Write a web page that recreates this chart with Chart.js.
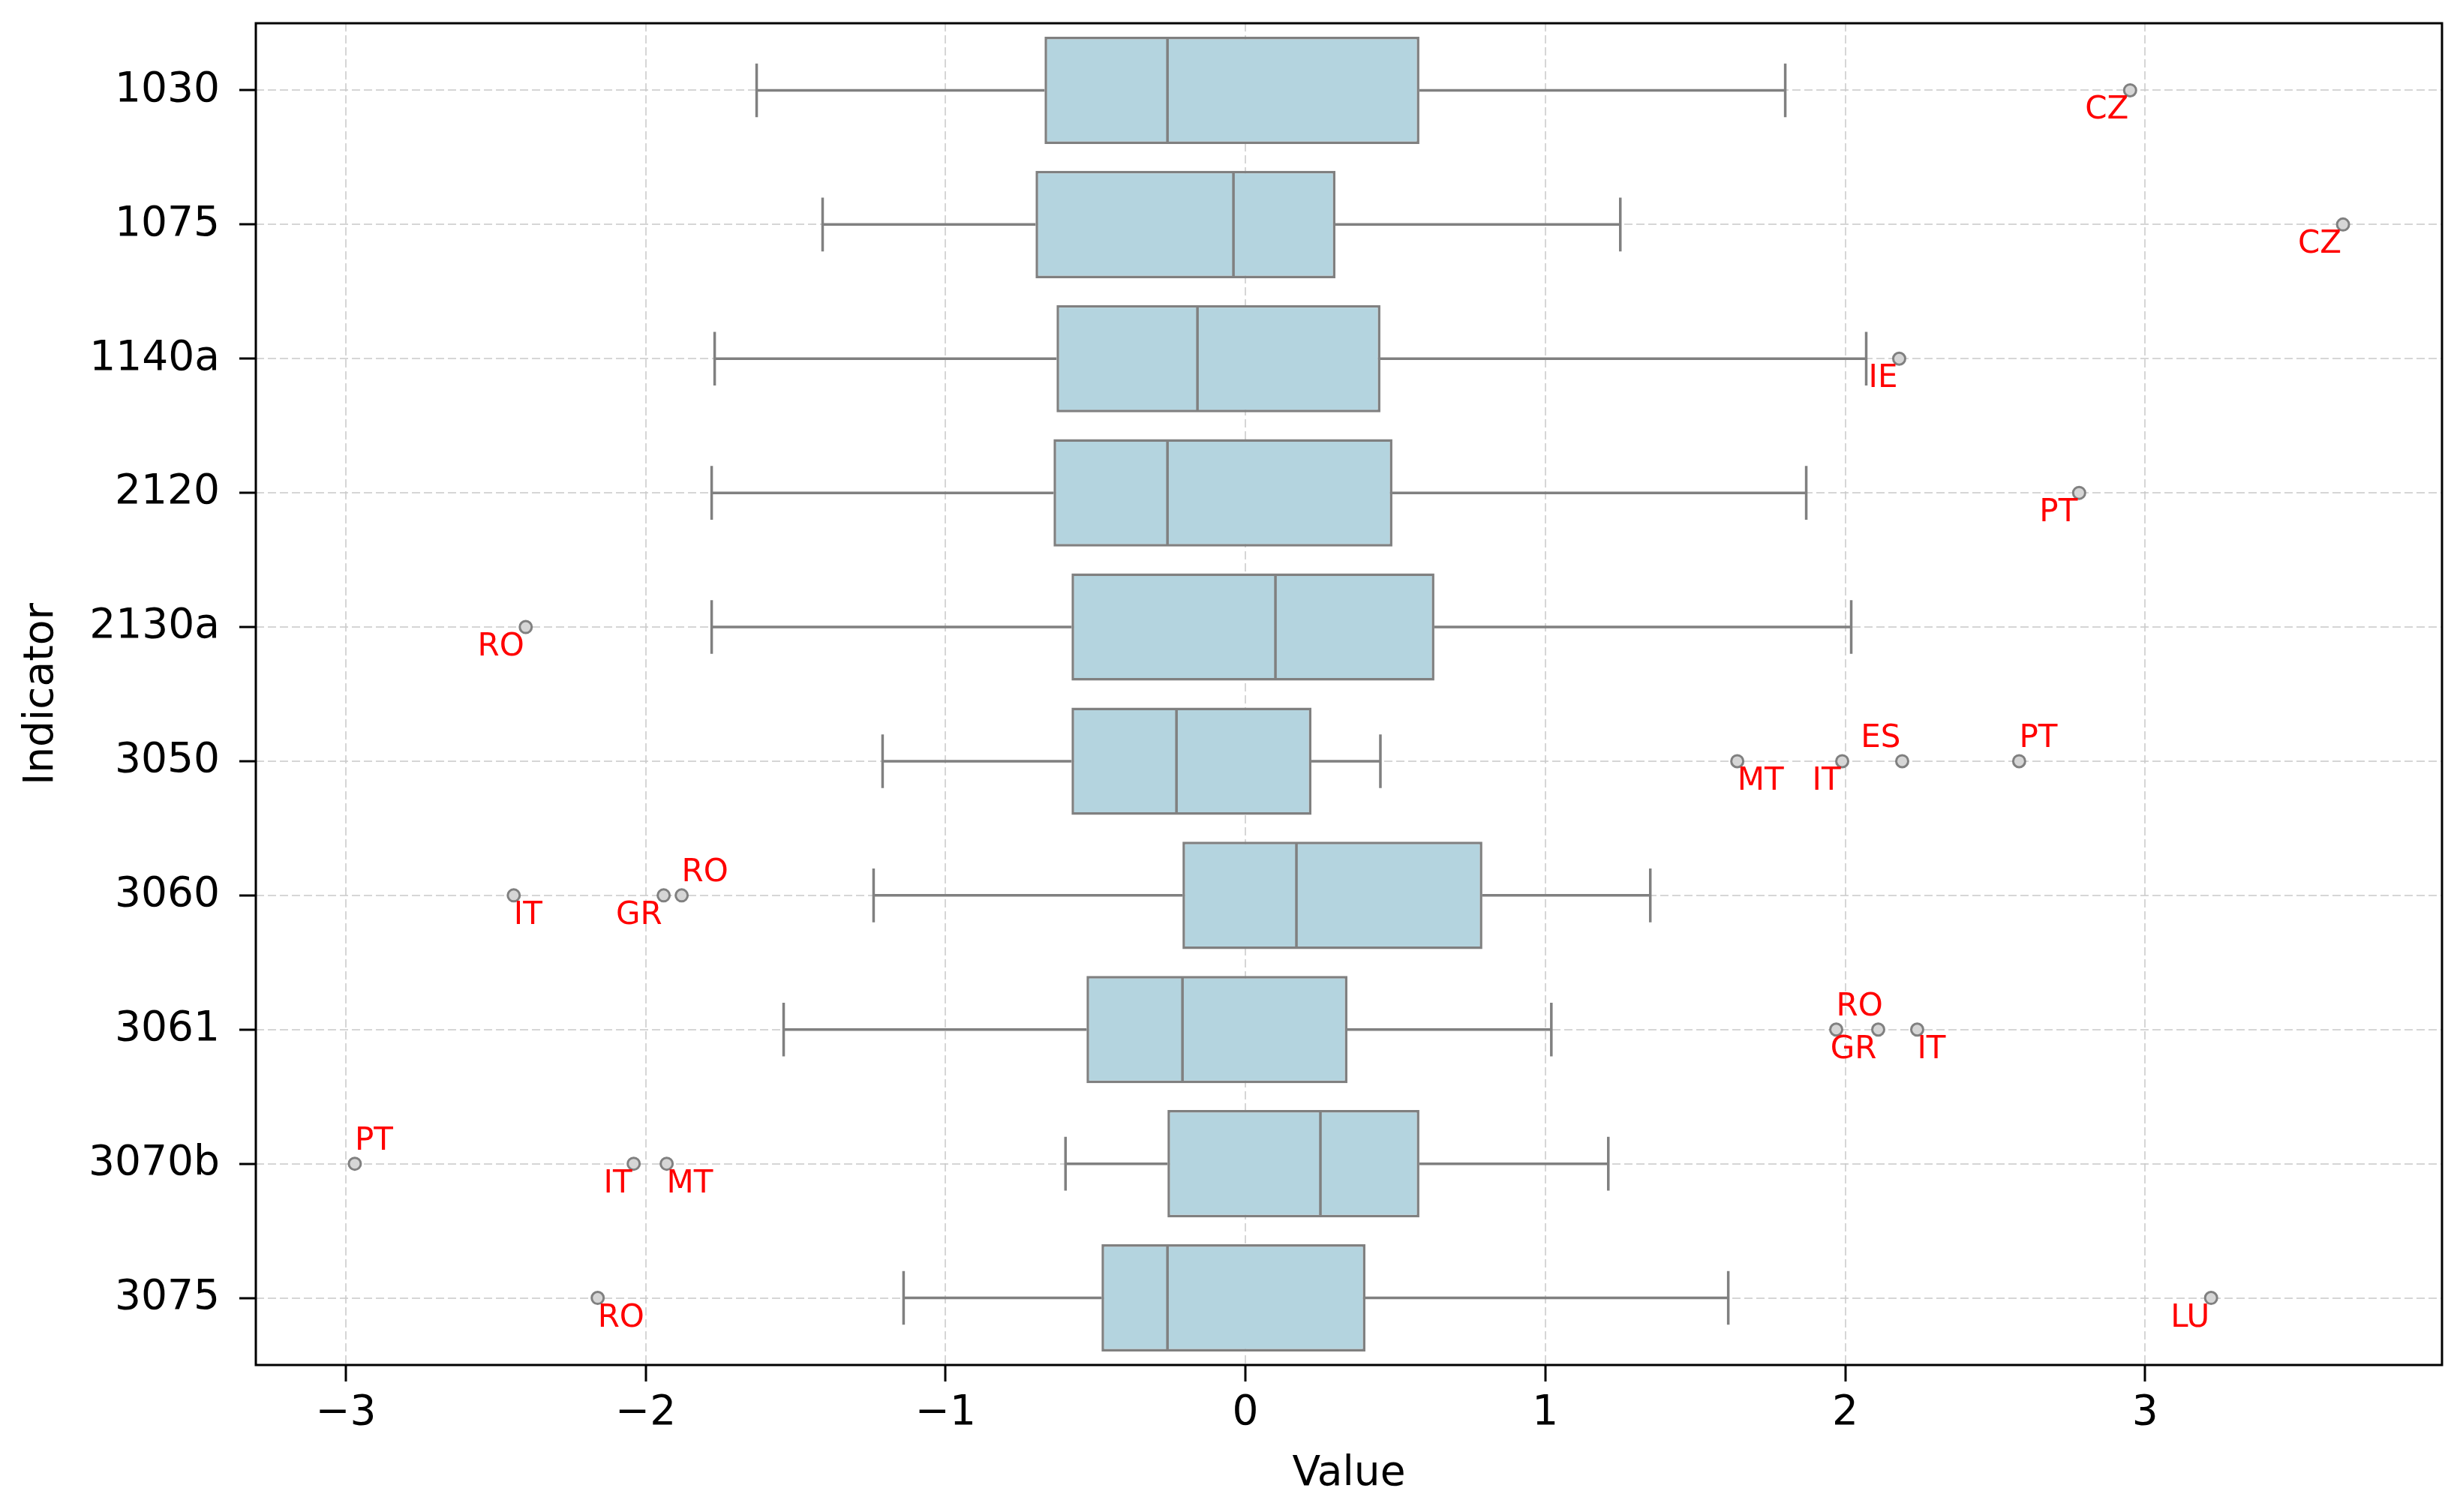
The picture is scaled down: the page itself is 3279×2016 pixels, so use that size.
<!DOCTYPE html>
<html>
<head>
<meta charset="utf-8">
<script src="https://cdn.jsdelivr.net/npm/chart.js@4.4.1/dist/chart.umd.min.js"></script>
<style>
  html, body { margin: 0; padding: 0; background: #ffffff; }
  #wrap { width: 3279px; height: 2016px; }
</style>
</head>
<body>
<div id="wrap"><canvas id="box-chart" width="3279" height="2016"></canvas></div>
<script>
// ---------- DATA ----------
const indicators  = ["1030", "1075", "1140a", "2120", "2130a", "3050", "3060", "3061", "3070b", "3075"];
const whiskerLow  = [-1.63, -1.41, -1.77, -1.78, -1.78, -1.21, -1.24, -1.54, -0.60, -1.14];
const q1          = [-0.67, -0.70, -0.63, -0.64, -0.58, -0.58, -0.21, -0.53, -0.26, -0.48];
const median      = [-0.26, -0.04, -0.16, -0.26,  0.10, -0.23,  0.17, -0.21,  0.25, -0.26];
const q3          = [ 0.58,  0.30,  0.45,  0.49,  0.63,  0.22,  0.79,  0.34,  0.58,  0.40];
const whiskerHigh = [ 1.80,  1.25,  2.07,  1.87,  2.02,  0.45,  1.35,  1.02,  1.21,  1.61];

const outlierIndicator = ["1030", "1075", "1140a", "2120", "2130a",
                          "3050", "3050", "3050", "3050",
                          "3060", "3060", "3060",
                          "3061", "3061", "3061",
                          "3070b", "3070b", "3070b",
                          "3075", "3075"];
const outlierValue     = [2.95, 3.66, 2.18, 2.78, -2.40,
                          1.64, 1.99, 2.19, 2.58,
                          -2.44, -1.94, -1.88,
                          1.97, 2.11, 2.24,
                          -2.97, -2.04, -1.93,
                          -2.16, 3.22];
const outlierCountry   = ["CZ", "CZ", "IE", "PT", "RO",
                          "MT", "IT", "ES", "PT",
                          "IT", "GR", "RO",
                          "RO", "GR", "IT",
                          "PT", "IT", "MT",
                          "RO", "LU"];
// where each label sits around its point: b/t = below/above, l/r = left/right
const labelAnchor      = ["bl", "bl", "bl", "bl", "bl",
                          "br", "bl", "tl", "tr",
                          "br", "bl", "tr",
                          "tr", "bl", "br",
                          "tr", "bl", "br",
                          "br", "bl"];

const xTicks = [-3, -2, -1, 0, 1, 2, 3];
const xMin = -3.30, xMax = 3.99;

// ---------- STYLE ----------
const BOX_FILL  = "#b4d4df";
const LINE_GRAY = "#808080";
const GRID      = "rgba(200,200,200,0.75)";
const FONT      = "'DejaVu Sans', sans-serif";

// whiskers, caps and median line for every box
const boxParts = {
  id: "boxParts",
  afterDatasetDraw(chart, args) {
    if (args.index !== 0) return;
    const xs = chart.scales.x, ys = chart.scales.y, ctx = chart.ctx;
    const step = ys.getPixelForValue(1) - ys.getPixelForValue(0);
    const boxHalf = step * 0.4, capHalf = step * 0.2;
    ctx.save();
    ctx.strokeStyle = LINE_GRAY;
    ctx.lineWidth = 3.5;
    indicators.forEach((name, i) => {
      const cy = ys.getPixelForValue(i);
      const lo = xs.getPixelForValue(whiskerLow[i]);
      const hi = xs.getPixelForValue(whiskerHigh[i]);
      const a  = xs.getPixelForValue(q1[i]);
      const b  = xs.getPixelForValue(q3[i]);
      const m  = xs.getPixelForValue(median[i]);
      ctx.beginPath();
      ctx.moveTo(lo, cy); ctx.lineTo(a, cy);
      ctx.moveTo(b, cy);  ctx.lineTo(hi, cy);
      ctx.moveTo(lo, cy - capHalf); ctx.lineTo(lo, cy + capHalf);
      ctx.moveTo(hi, cy - capHalf); ctx.lineTo(hi, cy + capHalf);
      ctx.moveTo(m, cy - boxHalf + 2); ctx.lineTo(m, cy + boxHalf - 2);
      ctx.stroke();
    });
    ctx.restore();
  }
};

// red country codes next to the outliers
const outlierLabels = {
  id: "outlierLabels",
  afterDatasetsDraw(chart) {
    const ctx = chart.ctx;
    const pts = chart.getDatasetMeta(1).data;
    ctx.save();
    ctx.font = "42px " + FONT;
    ctx.fillStyle = "#ff0000";
    ctx.textBaseline = "alphabetic";
    pts.forEach((p, i) => {
      const anchor = labelAnchor[i];
      const below = anchor[0] === "b";
      const left  = anchor[1] === "l";
      ctx.textAlign = left ? "right" : "left";
      const tx = left ? p.x - 2 : p.x;
      const ty = below ? p.y + 38 : p.y - 19;
      ctx.fillText(outlierCountry[i], tx, ty);
    });
    ctx.restore();
  }
};

// black frame around the plot area
const frame = {
  id: "frame",
  afterDraw(chart) {
    const {ctx, chartArea: c} = chart;
    ctx.save();
    ctx.strokeStyle = "#000000";
    ctx.lineWidth = 3;
    ctx.strokeRect(c.left, c.top, c.right - c.left, c.bottom - c.top);
    ctx.restore();
  }
};

const tickFont = { family: FONT, size: 55 };

new Chart(document.getElementById("box-chart").getContext("2d"), {
  type: "bar",
  data: {
    labels: indicators,
    datasets: [
      {
        type: "bar",
        indexAxis: "y",
        data: indicators.map((n, i) => [q1[i], q3[i]]),
        backgroundColor: BOX_FILL,
        borderColor: LINE_GRAY,
        borderWidth: 3.5,
        borderSkipped: false,
        categoryPercentage: 0.8,
        barPercentage: 1.0
      },
      {
        type: "scatter",
        data: outlierValue.map((v, i) => ({ x: v, y: outlierIndicator[i] })),
        pointRadius: 8,
        pointBorderWidth: 3,
        pointBackgroundColor: "#d6d6d6",
        pointBorderColor: LINE_GRAY,
        showLine: false
      }
    ]
  },
  options: {
    responsive: false,
    animation: false,
    devicePixelRatio: 1,
    layout: { padding: { top: 31, right: 24, left: 0, bottom: 0 } },
    plugins: { legend: { display: false }, tooltip: { enabled: false } },
    scales: {
      x: {
        type: "linear",
        position: "bottom",
        min: xMin,
        max: xMax,
        bounds: "data",
        offset: false,
        beginAtZero: false,
        afterFit: (s) => { s.height = 196; s.paddingLeft = 0; s.paddingRight = 0; },
        afterBuildTicks: (s) => { s.ticks = xTicks.map(v => ({ value: v })); },
        ticks: {
          includeBounds: false,
          stepSize: 1,
          color: "#000000",
          font: tickFont,
          padding: 10,
          callback: (v) => String(v).replace("-", "\u2212")
        },
        grid: {
          offset: false,
          color: GRID,
          lineWidth: 2,
          tickLength: 22,
          tickColor: "#000000",
          tickWidth: 3
        },
        border: { display: false, dash: [11, 5] },
        title: { display: true, text: "Value", color: "#000000", font: tickFont, padding: { top: 0, bottom: 17 } }
      },
      y: {
        type: "category",
        labels: indicators,
        position: "left",
        offset: true,
        afterFit: (s) => { s.width = 341; s.paddingTop = 0; s.paddingBottom = 0; },
        ticks: { color: "#000000", font: tickFont, padding: 26 },
        grid: {
          offset: false,
          color: GRID,
          lineWidth: 2,
          tickLength: 22,
          tickColor: "#000000",
          tickWidth: 3
        },
        border: { display: false, dash: [11, 5] },
        title: { display: true, text: "Indicator", color: "#000000", font: tickFont, padding: { top: 23, bottom: 0 } }
      }
    }
  },
  plugins: [boxParts, outlierLabels, frame]
});
</script>
</body>
</html>
